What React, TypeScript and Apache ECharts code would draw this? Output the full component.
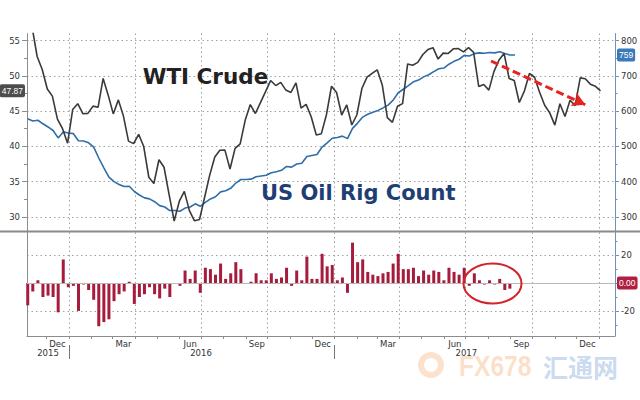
import React, { useEffect, useRef } from "react";
import * as echarts from "echarts";

const DAY0 = Date.UTC(2016, 0, 1);
const MS_DAY = 86400000;
const toDay = (y: number, m: number, d: number) => Math.round((Date.UTC(y, m - 1, d) - DAY0) / MS_DAY);
const fromDay = (v: number) => new Date(DAY0 + v * MS_DAY);

// visible date range (days since 2016-01-01)
const xMin = toDay(2015, 11, 4);
const xMax = toDay(2018, 1, 23);

// WTI Crude, weekly closes (plotted from this start date, one point per week)
const wtiStart = toDay(2015, 11, 11);
const wtiValues = [
  56.93, 52.74, 50.89, 48.14, 47.12, 43.87, 42.5, 40.45, 45.22, 46.05, 44.63, 44.68, 45.7, 45.54, 49.63, 47.26,
  44.6, 46.59, 44.29, 40.74, 40.39, 41.71, 39.97, 35.62, 34.73, 38.1, 37.04,
  33.16, 29.42, 32.19, 33.62, 30.89, 29.44, 29.64, 32.78, 35.92, 38.5, 39.44, 39.46, 36.79, 39.72, 40.36, 43.73,
  45.92, 44.66, 46.21, 47.75, 49.33, 48.62, 49.07, 47.98, 47.64, 48.99, 45.41, 45.95, 44.19, 41.6, 41.8, 44.49,
  48.52, 47.64, 44.44, 45.88, 43.03, 44.48, 48.24, 49.81, 50.35, 50.85, 48.7, 44.07, 43.41, 45.69, 46.06, 51.68,
  51.5, 51.9, 53.02, 53.72,
  53.99, 52.37, 53.22, 53.17, 53.83, 53.86, 53.4, 53.99, 53.33, 48.49, 48.78, 47.97, 50.6, 52.24, 53.18, 49.62,
  49.33, 46.22, 47.84, 50.33, 49.8, 47.66, 45.83, 44.74, 43.01, 46.04, 44.23, 46.54, 45.77, 49.71, 49.58, 48.82,
  48.51, 47.87,
];

// US oil rig count, weekly
const rigStart = toDay(2015, 11, 5);
const rigValues = [
  578, 572, 574, 564, 555, 545, 524, 541, 538, 536,
  516, 515, 510, 498, 467, 439, 413, 400, 392, 386, 387, 372, 362, 354, 351, 343, 332, 328, 318, 318, 316, 325,
  328, 337, 330, 341, 351, 357, 371, 374, 381, 396, 406, 406, 407, 414, 416, 418, 425, 428, 432, 443, 441, 450,
  452, 471, 474, 477, 498, 510, 523, 525,
  529, 522, 551, 566, 583, 591, 597, 602, 609, 617, 631, 652, 662, 672, 683, 688, 697, 703, 712, 720, 722, 733,
  741, 747, 758, 756, 763, 765, 764, 766, 765, 768, 763, 759, 759,
];
// weekly change of the rig count
const rigChanges = [
  -16, -6, 2, -10, -9, -10, -21, 17, -3, -2,
  -20, -1, -5, -12, -31, -28, -26, -13, -8, -6, 1, -15, -10, -8, -3, -8, -11, -4, -10, 0, -2, 9, 3, 9, -7, 11,
  10, 6, 14, 3, 7, 15, 10, 0, 1, 7, 2, 2, 7, 3, 4, 11, -2, 9, 2, 19, 3, 3, 21, 12, 13, 2,
  4, -7, 29, 15, 17, 8, 6, 5, 7, 8, 14, 21, 10, 10, 11, 5, 9, 6, 9, 8, 2, 11, 8, 6, 11, -2, 7, 2, -1, 2, -1, 3,
  -5, -4, 0,
];

// axis ticks / labels
const wtiTicks = [30, 35, 40, 45, 50, 55];
const wtiMinorTicks = [32.5, 37.5, 42.5, 47.5, 52.5];
const rigTicks = [300, 400, 500, 600, 700, 800];
const rigMinorTicks = [350, 450, 550, 650, 750];
const changeTicks = [-20, 0, 20];
const changeLabels = [-20, 20];
const changeMinorTicks = [-30, -10, 10, 30];
const monthNames = ["Jan", "Feb", "Mar", "Apr", "May", "Jun", "Jul", "Aug", "Sep", "Oct", "Nov", "Dec"];
const quarterStarts = [
  toDay(2016, 1, 1), toDay(2016, 4, 1), toDay(2016, 7, 1), toDay(2016, 10, 1),
  toDay(2017, 1, 1), toDay(2017, 4, 1), toDay(2017, 7, 1), toDay(2017, 10, 1), toDay(2018, 1, 1),
];
const monthStarts: number[] = [];
for (let y = 2015, m = 12; y < 2018 || (y === 2018 && m === 1); ) {
  monthStarts.push(toDay(y, m, 1));
  m++;
  if (m > 12) { m = 1; y++; }
}
const monthLabelDays = [
  toDay(2015, 12, 16), toDay(2016, 3, 16), toDay(2016, 6, 16), toDay(2016, 9, 16), toDay(2016, 12, 16),
  toDay(2017, 3, 16), toDay(2017, 6, 16), toDay(2017, 9, 16), toDay(2017, 12, 16),
];
const yearBreaks = [toDay(2016, 1, 1), toDay(2017, 1, 1)];
const yearLabelDays = [toDay(2015, 12, 3), toDay(2016, 7, 1), toDay(2017, 7, 2)];

// trend arrow (data coordinates)
const arrowFrom = [toDay(2017, 8, 5), 52.1];
const arrowTo = [toDay(2017, 12, 13), 45.9];

const FONT = '"DejaVu Sans", Verdana, sans-serif';
const BADGE_FONT = '"Liberation Sans", Arial, sans-serif';
const AX_GRAY = "#8c8c8c";
const AX_BLUE = "#6f93b8";
const dotted = { type: [1.5, 3] as any, color: "#a0a0a0", width: 1 };
const lbl = { fontSize: 8.5, lineHeight: 9, color: "#333", fontFamily: FONT };

export default function App() {
  const ref = useRef<HTMLDivElement>(null);
  useEffect(() => {
    if (!ref.current) return;
    const chart = echarts.init(ref.current, undefined, { renderer: "svg" });
    const wtiData = wtiValues.map((v, i) => [wtiStart + i * 7, v]);
    const rigData = rigValues.map((v, i) => [rigStart + i * 7, v]);
    const chgData = rigChanges.map((v, i) => [rigStart + i * 7, v]);
    const wtiLast = wtiValues[wtiValues.length - 1];
    const rigLast = rigValues[rigValues.length - 1];
    const chgLast = rigChanges[rigChanges.length - 1];
    const xBase = { type: "value", min: xMin, max: xMax };
    const badge = (bg: string) => ({
      show: true,
      backgroundColor: bg,
      color: "#fff",
      padding: [2, 2, 2, 2],
      borderRadius: 2,
      fontSize: 8.5,
      fontFamily: BADGE_FONT,
      distance: 2,
    });

    chart.setOption({
      animation: false,
      backgroundColor: "#fff",
      textStyle: { fontFamily: FONT },
      grid: [
        { left: 27, right: 25, top: 33.5, height: 197.5, outerBoundsMode: "none", containLabel: false },
        { left: 27, right: 25, top: 232.5, height: 103.5, outerBoundsMode: "none", containLabel: false },
      ],
      xAxis: [
        {
          ...xBase, gridIndex: 0,
          axisLine: { show: false, onZero: false },
          axisTick: { show: false, customValues: quarterStarts },
          axisLabel: { show: false },
          splitLine: { show: true, lineStyle: dotted },
        },
        {
          ...xBase, gridIndex: 1, position: "bottom",
          axisLine: { show: true, onZero: false, lineStyle: { color: AX_GRAY, width: 1 } },
          axisTick: { show: true, customValues: monthStarts, length: 3, lineStyle: { color: AX_GRAY } },
          axisLabel: {
            show: true, customValues: monthLabelDays, margin: 3.5, ...lbl,
            formatter: (v: number) => monthNames[fromDay(v).getUTCMonth()],
          },
          splitLine: { show: false },
        },
        {
          ...xBase, gridIndex: 1, position: "bottom",
          axisLine: { show: false, onZero: false },
          axisTick: { show: false, customValues: quarterStarts },
          axisLabel: { show: false },
          splitLine: { show: true, lineStyle: dotted },
        },
        {
          ...xBase, gridIndex: 1, position: "bottom", offset: 9,
          axisLine: { show: false, onZero: false },
          axisTick: { show: true, customValues: yearBreaks, length: 14, lineStyle: { color: "#777" } },
          axisLabel: {
            show: true, customValues: yearLabelDays, margin: 3.5, ...lbl,
            formatter: (v: number) => String(fromDay(v).getUTCFullYear()),
          },
          splitLine: { show: false },
        },
      ],
      yAxis: [
        {
          type: "value", gridIndex: 0, position: "left", min: 28, max: 56,
          axisLine: { show: true, onZero: false, lineStyle: { color: AX_GRAY } },
          axisTick: { show: true, customValues: wtiTicks, length: 5, lineStyle: { color: AX_GRAY } },
          axisLabel: { show: true, customValues: wtiTicks, margin: 7, ...lbl },
          splitLine: { show: true, lineStyle: dotted },
        },
        {
          type: "value", gridIndex: 0, position: "right", min: 260, max: 820,
          axisLine: { show: true, onZero: false, lineStyle: { color: AX_BLUE } },
          axisTick: { show: true, customValues: rigTicks, length: 4, lineStyle: { color: AX_BLUE } },
          axisLabel: { show: true, customValues: rigTicks, margin: 6, ...lbl },
          splitLine: { show: false },
        },
        {
          type: "value", gridIndex: 0, position: "left", min: 28, max: 56,
          axisLine: { show: false, onZero: false },
          axisTick: { show: true, customValues: wtiMinorTicks, length: 3, lineStyle: { color: AX_GRAY } },
          axisLabel: { show: false },
          splitLine: { show: false },
        },
        {
          type: "value", gridIndex: 0, position: "right", min: 260, max: 820,
          axisLine: { show: false, onZero: false },
          axisTick: { show: true, customValues: rigMinorTicks, length: 2.5, lineStyle: { color: AX_BLUE } },
          axisLabel: { show: false },
          splitLine: { show: false },
        },
        {
          type: "value", gridIndex: 1, position: "right", min: -38, max: 36.3,
          axisLine: { show: true, onZero: false, lineStyle: { color: AX_BLUE } },
          axisTick: { show: true, customValues: changeTicks, length: 4, lineStyle: { color: AX_BLUE } },
          axisLabel: { show: true, customValues: changeLabels, margin: 6, ...lbl },
          splitLine: { show: true, lineStyle: dotted },
        },
        {
          type: "value", gridIndex: 1, position: "left", min: -38, max: 36.3,
          axisLine: { show: true, onZero: false, lineStyle: { color: AX_GRAY } },
          axisTick: { show: false },
          axisLabel: { show: false },
          splitLine: { show: false },
        },
        {
          type: "value", gridIndex: 1, position: "right", min: -38, max: 36.3,
          axisLine: { show: false, onZero: false },
          axisTick: { show: true, customValues: changeMinorTicks, length: 2.5, lineStyle: { color: AX_BLUE } },
          axisLabel: { show: false },
          splitLine: { show: false },
        },
      ],
      series: [
        {
          name: "US Oil Rig Count", type: "line", xAxisIndex: 0, yAxisIndex: 1, data: rigData,
          showSymbol: false, symbol: "none", z: 2,
          lineStyle: { color: "#2f6ea8", width: 1.6 }, itemStyle: { color: "#2f6ea8" },
          markLine: {
            silent: true, symbol: ["none", "none"], animation: false,
            data: [
              { yAxis: rigLast, lineStyle: { width: 0, color: "transparent" },
                label: { ...badge("#3b79b9"), position: "end", formatter: String(rigLast) } },
            ],
          },
        },
        {
          name: "WTI Crude", type: "line", xAxisIndex: 0, yAxisIndex: 0, data: wtiData,
          showSymbol: false, symbol: "none", z: 3,
          lineStyle: { color: "#3a3a3a", width: 1.6 }, itemStyle: { color: "#3a3a3a" },
          markLine: {
            silent: true, symbol: ["none", "none"], animation: false,
            data: [
              { yAxis: wtiLast, lineStyle: { width: 0, color: "transparent" },
                label: { ...badge("#4d4d4d"), position: "start", formatter: wtiLast.toFixed(2) } },
              [
                { coord: arrowFrom, symbol: "none",
                  lineStyle: { color: "#e8231f", width: 3, type: [8, 4] }, label: { show: false } },
                { coord: arrowTo, symbol: "arrow", symbolSize: [11, 13] },
              ],
            ],
          },
        },
        {
          name: "Weekly change", type: "bar", xAxisIndex: 1, yAxisIndex: 4, data: chgData,
          barWidth: 3, itemStyle: { color: "#a51c3c" },
          markLine: {
            silent: true, symbol: ["none", "none"], animation: false,
            data: [
              { yAxis: chgLast, lineStyle: { width: 1, type: "solid", color: "#b9b9b9" },
                label: { ...badge("#b01f40"), position: "end", formatter: chgLast.toFixed(2) } },
            ],
          },
        },
      ],
      graphic: [
        { type: "line", z: 50, shape: { x1: 0, y1: 231.5, x2: 640, y2: 231.5 },
          style: { stroke: "#8a8a8a", lineWidth: 2 } },
        { type: "ellipse", z: 50, shape: { cx: 492.5, cy: 283.5, rx: 29, ry: 20 },
          style: { stroke: "#d3232b", lineWidth: 2, fill: "none" } },
        { type: "text", z: 50, x: 142.7, y: 76,
          style: { text: "WTI Crude", font: 'bold 21.5px "DejaVu Sans"', fill: "#222",
            textVerticalAlign: "middle", verticalAlign: "middle" } },
        { type: "text", z: 50, x: 261, y: 193,
          style: { text: "US Oil Rig Count", font: 'bold 21px "DejaVu Sans"', fill: "#1f3e74",
            textVerticalAlign: "middle", verticalAlign: "middle" } },
        { type: "ring", z: 1, shape: { cx: 431, cy: 365, r: 13, r0: 7 },
          style: { fill: "rgba(245,170,110,0.35)" } },
        { type: "text", z: 1, x: 459, y: 366, scaleX: 0.82,
          style: { text: "FX678", font: 'bold 30px "Liberation Sans"',
            fill: "rgba(246,165,100,0.35)", textVerticalAlign: "middle", verticalAlign: "middle" } },
        { type: "text", z: 1, x: 543, y: 366,
          style: { text: "汇通网", font: 'bold 25px "Noto Sans CJK SC"',
            fill: "rgba(120,160,215,0.4)", textVerticalAlign: "middle", verticalAlign: "middle" } },
      ],
    });
    return () => chart.dispose();
  }, []);
  return (
    <div
      ref={ref}
      style={{ position: "fixed", left: 0, top: 0, width: 640, height: 400, background: "#fff" }}
    />
  );
}
